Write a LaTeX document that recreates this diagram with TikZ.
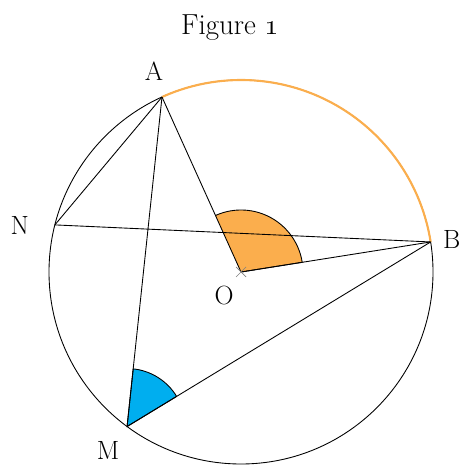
\documentclass[tikz,border=0pt]{standalone}
\usepackage{xcolor}
\usepackage{tikz}
\usetikzlibrary{calc,positioning}
\definecolor{arcorange}{RGB}{251,174,77}
\definecolor{angblue}{RGB}{0,174,239}

\begin{document}
\begin{tikzpicture}[x=0.02cm,y=0.02cm,line width=0.5pt,font=\fontsize{15}{18}\selectfont]
\tikzset{lbl/.style={inner sep=0pt},
  chord/.style={black,line width=0.5pt}}
\useasboundingbox (-241,-193) rectangle (221,272);
% points on the circle
\coordinate (O) at (0,0);
\coordinate (A) at (114.3:192);
\coordinate (B) at (9:192);
\coordinate (N) at (165.8:192);
\coordinate (M) at (233.6:192);
% angles
\fill[arcorange] (O) -- (9:62) arc[start angle=9,end angle=114.3,radius=62] -- cycle;
\fill[angblue] (M) -- ++(31.3:58) arc[start angle=31.3,end angle=83.95,radius=58] -- cycle;
% circle and arc AB
\draw[chord] (O) circle[radius=192];
\draw[arcorange,line width=1.2pt] (B) arc[start angle=9,end angle=114.3,radius=192];
% chords
\draw[chord] (N) -- (A);
\draw[chord] (A) -- (M);
\draw[chord] (A) -- (O);
\draw[chord] (O) -- (B);
\draw[chord] (N) -- (B);
\draw[chord] (M) -- (B);
\draw[chord] (O) -- (9:62) arc[start angle=9,end angle=114.3,radius=62];
\draw[chord] (M) -- ++(31.3:58) arc[start angle=31.3,end angle=83.95,radius=58] -- cycle;
\draw[gray,line width=0.4pt] (O) +(-5,-5) -- +(5,5) (O) +(-5,5) -- +(5,-5);
% labels
\node[lbl] (labA) at ($(A)+(-8,26)$) {A};
\node[lbl] (labB) at ($(B)+(21,2)$) {B};
\node[lbl] (labN) at ($(N)+(-35,-1)$) {N};
\node[lbl] (labM) at ($(M)+(-19,-24)$) {M};
\node[lbl] (labO) at ($(O)+(-17,-24)$) {O};
\node[lbl,anchor=base,font=\fontsize{16.5}{20}\selectfont] (title) at (-11,237) {Figure \oldstylenums{1}};
\end{tikzpicture}
\end{document}
